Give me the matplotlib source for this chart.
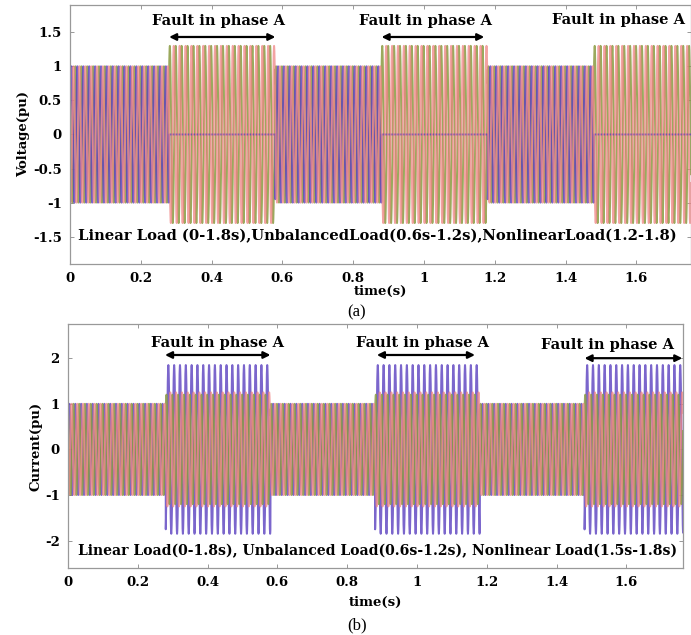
import numpy as np
import matplotlib
matplotlib.use("Agg")
import matplotlib.pyplot as plt

# ---- data ----
seg_edges = [0.0, 0.28, 0.58, 0.88, 1.18, 1.48, 1.78]   # s, segment boundaries
seg_fault = [0, 1, 0, 1, 0, 1]                          # 1 = fault in phase A
freq_hz = 60.0
phase_deg = [0, -120, 120]                              # phases A, B, C
phase_colors = ['#5a40c0', '#f08484', '#8a9a40']
phase_alpha = [0.8, 0.75, 0.85]
volt_amp_normal = [1.0, 1.0, 1.0]
volt_amp_fault = [0.0, 1.3, 1.3]
curr_amp_normal = [1.0, 1.0, 1.0]
curr_amp_fault = [1.85, 1.25, 1.2]

fault_text_v = [(0.42, 1.66), (1.005, 1.66), (1.55, 1.68)]
fault_arrow_v = [(0.28, 0.58, 1.43), (0.88, 1.17, 1.43), (1.48, 1.78, 1.43)]
fault_text_i = [(0.427, 2.33), (1.017, 2.33), (1.547, 2.28)]
fault_arrow_i = [(0.278, 0.58, 2.07), (0.885, 1.166, 2.07), (1.48, 1.76, 2.0)]

volt_ticks = [-1.5, -1, -0.5, 0, 0.5, 1, 1.5]
volt_ticklabels = ['-1.5', '-1', '-0.5', '0', '0.5', '1', '1.5']
curr_ticks = [-2, -1, 0, 1, 2]
curr_ticklabels = ['-2', '-1', '0', '1', '2']
time_ticks = [0, 0.2, 0.4, 0.6, 0.8, 1.0, 1.2, 1.4, 1.6]
time_ticklabels = ['0', '0.2', '0.4', '0.6', '0.8', '1', '1.2', '1.4', '1.6']

load_text_v = "Linear Load (0-1.8s),UnbalancedLoad(0.6s-1.2s),NonlinearLoad(1.2-1.8)"
load_text_i = "Linear Load(0-1.8s), Unbalanced Load(0.6s-1.2s), Nonlinear Load(1.5s-1.8s)"

BOLD = ['DejaVu Serif']
SERIF = ['Liberation Serif', 'DejaVu Serif']


def waveform(amp_normal, amp_fault):
    t = np.linspace(seg_edges[0], seg_edges[-1], 40001)
    idx = np.clip(np.searchsorted(seg_edges, t, side='right') - 1, 0, len(seg_fault) - 1)
    isf = np.array(seg_fault)[idx]
    out = []
    for k in range(3):
        a = np.where(isf == 1, amp_fault[k], amp_normal[k])
        out.append(a * np.sin(2 * np.pi * freq_hz * t + np.deg2rad(phase_deg[k])))
    return t, out


fig = plt.figure(figsize=(6.91, 6.35), dpi=100)
ax1 = fig.add_axes([0.1013, 0.5843, 0.8987, 0.4079])
ax2 = fig.add_axes([0.0984, 0.1055, 0.890, 0.3843])


def style(ax, yticks, yticklabels, ylabel, xlim, ylim, xlabelpad):
    ax.set_xlim(*xlim)
    ax.set_ylim(*ylim)
    ax.set_xticks(time_ticks)
    ax.set_xticklabels(time_ticklabels, fontfamily=BOLD, fontweight='bold', fontsize=9.5)
    ax.set_yticks(yticks)
    ax.set_yticklabels(yticklabels, fontfamily=BOLD, fontweight='bold', fontsize=9.5)
    ax.tick_params(direction='in', length=3, width=0.6, color='#888888', top=True, right=True, pad=6)
    for s in ax.spines.values():
        s.set_color('#999999')
        s.set_linewidth(0.9)
    ax.set_ylabel(ylabel, fontfamily=BOLD, fontweight='bold', fontsize=9.5, labelpad=2)
    ax.set_xlabel('time(s)', fontfamily=BOLD, fontweight='bold', fontsize=9.5, labelpad=xlabelpad)


t, vs = waveform(volt_amp_normal, volt_amp_fault)
for k in [2, 0, 1]:
    ax1.plot(t, vs[k], color=phase_colors[k], lw=1.4, alpha=phase_alpha[k])
t, cs = waveform(curr_amp_normal, curr_amp_fault)
for k in [0, 2, 1]:
    ax2.plot(t, cs[k], color=phase_colors[k], lw=1.4, alpha=phase_alpha[k])

style(ax1, volt_ticks, volt_ticklabels, 'Voltage(pu)', (0, 1.754), (-1.9, 1.9), 0)
style(ax2, curr_ticks, curr_ticklabels, 'Current(pu)', (0, 1.762), (-2.6, 2.75), 5)

for ax, texts, arrows in ((ax1, fault_text_v, fault_arrow_v), (ax2, fault_text_i, fault_arrow_i)):
    for (x, y) in texts:
        ax.text(x, y, 'Fault in phase A', ha='center', va='center', fontfamily=BOLD,
                fontweight='bold', fontsize=10.5, clip_on=False)
    for (x0, x1, y) in arrows:
        ax.annotate('', xy=(x1, y), xytext=(x0, y),
                    arrowprops=dict(arrowstyle='<|-|>', color='black', lw=1.6,
                                    mutation_scale=10, shrinkA=0, shrinkB=0))

ax1.text(0.023, -1.49, load_text_v, ha='left', va='center', fontfamily=BOLD,
         fontweight='bold', fontsize=10.6)
ax2.text(0.03, -2.22, load_text_i, ha='left', va='center', fontfamily=BOLD,
         fontweight='bold', fontsize=10.05)

fig.text(357 / 691, 1 - 312 / 635, '(a)', ha='center', va='center', fontfamily=SERIF, fontsize=12)
fig.text(357 / 691, 1 - 625 / 635, '(b)', ha='center', va='center', fontfamily=SERIF, fontsize=12)

fig.savefig('out.png', dpi=100)
